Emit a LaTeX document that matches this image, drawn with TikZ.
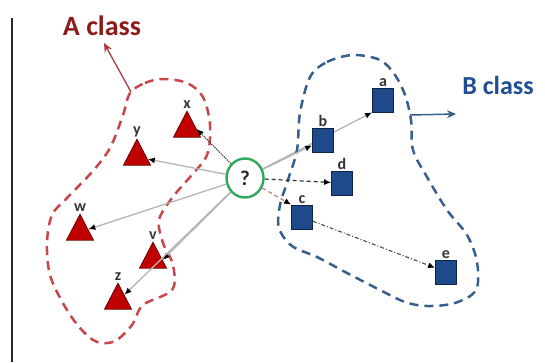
\documentclass[tikz,border=0pt]{standalone}
\usepackage{fontspec}
\setmainfont{Carlito}
\usetikzlibrary{arrows.meta,shapes.geometric,backgrounds}

\definecolor{clsred}{HTML}{8E1B1B}
\definecolor{regred}{HTML}{C9464A}
\definecolor{trifill}{HTML}{C00000}
\definecolor{triedge}{HTML}{6B0000}
\definecolor{clsblue}{HTML}{1F4E96}
\definecolor{regblue}{HTML}{365F8E}
\definecolor{sqfill}{HTML}{1F4A8A}
\definecolor{sqedge}{HTML}{0B2447}
\definecolor{qgreen}{HTML}{2EAA5C}
\definecolor{link}{HTML}{B4B4B4}

\tikzset{
  tri/.style={isosceles triangle, isosceles triangle stretches,
    shape border rotate=90, minimum width=27pt, minimum height=26pt,
    inner sep=0pt, fill=trifill, draw=triedge, line width=0.8pt},
  sq/.style={rectangle, minimum width=21pt, minimum height=24pt,
    inner sep=0pt, fill=sqfill, draw=sqedge, line width=0.8pt},
  lbl/.style={font=\fontsize{16}{16}\selectfont\bfseries, text=black!80,
    inner sep=1pt},
  query/.style={ellipse, minimum width=37pt, minimum height=39pt, inner sep=0pt,
    draw=qgreen, line width=2.4pt, fill=white,
    font=\fontsize{21}{21}\selectfont\bfseries, text=black!85},
  region/.style={dash pattern=on 9pt off 6pt, line width=2.5pt},
  tip/.style={-{Latex[length=7pt,width=6pt,color=black]}},
  near/.style={tip, draw=link, line width=1.3pt},
  classtxt/.style={font=\fontsize{26}{26}\selectfont\bfseries, inner sep=0pt}
}

\begin{document}
\begin{tikzpicture}[x=1pt,y=-1pt]
\useasboundingbox (0,0) rectangle (545,362);

% left rule
\draw[line width=2pt, black!85] (12,18) -- (12,362);

% class regions
\draw[region, draw=regred] plot[smooth cycle, tension=0.55] coordinates {
  (130,93) (145,83) (163,79) (187,83) (203,97) (210,125) (207,155) (190,177)
  (172,198) (159,220) (163,243) (173,265) (172,290) (143,305) (132,325)
  (115,341) (97,342) (80,328) (64,305) (50,275) (47,243) (52,215) (67,198)
  (92,172) (110,148) (123,115)};
\draw[region, draw=regblue] plot[smooth cycle, tension=0.55] coordinates {
  (310,77) (327,62) (353,55) (380,60) (395,75) (405,95) (411,120) (413,150)
  (427,177) (447,210) (467,235) (477,262) (476,290) (455,303) (427,306)
  (405,302) (380,290) (347,273) (317,257) (292,246) (279,228) (280,205)
  (288,180) (297,150) (300,113)};

% class titles and their pointers
\node[classtxt, text=clsred, font=\fontsize{28}{28}\selectfont\bfseries] (atitle) at (102,26) {A class};
\node[classtxt, text=clsblue] (btitle) at (498,85) {B class};
\coordinate (afrom) at (131,92);
\coordinate (ato) at (104,43);
\coordinate (bfrom) at (410,115);
\coordinate (bto) at (456,114);
\draw[line width=1.3pt, regred!85!black, -{Stealth[length=9pt,width=8pt]}] (afrom) -- (ato);
\draw[line width=1.5pt, regblue, -{Stealth[length=9pt,width=8pt]}] (bfrom) -- (bto);

% query point
\node[query] (q) at (245,178) {?};

% class A samples
\node[tri, label={[lbl]above:x}] (x) at (187,129) {};
\node[tri, label={[lbl]above:y}] (y) at (137,157) {};
\node[tri, label={[lbl]above:w}] (w) at (80,232) {};
\node[tri, label={[lbl]above:v}] (v) at (153,260) {};
\node[tri, label={[lbl]above:z}] (z) at (118,301) {};

% class B samples
\node[sq, label={[lbl]above:a}] (a) at (383,100) {};
\node[sq, label={[lbl]above:b}] (b) at (323,140) {};
\node[sq, label={[lbl]above:d}] (d) at (342,183) {};
\node[sq, label={[lbl]above:c}] (c) at (302,217) {};
\node[sq, label={[lbl]above:e}] (e) at (446,272) {};

% the link to a runs behind b
\begin{scope}[on background layer]
  \draw[near] (q) -- (a.south west);
\end{scope}

% distances from the query point
\draw[tip, line width=1.2pt, densely dotted, black!75] (q) -- (x.east);
\draw[near] (q) -- (y);
\draw[near] (q) -- (w);
\draw[near] (q) -- (v.east);
\draw[near] (q) -- (z);
\draw[near] (q) -- (b);
\draw[tip, line width=1.2pt, dash pattern=on 4pt off 3pt, black!80] (q) -- (d);
\draw[tip, line width=1.2pt, dash pattern=on 4pt off 3pt, black!35!regred!60] (q) -- (c.north west);
\draw[tip, line width=1.1pt, dash pattern=on 4pt off 2pt on 1pt off 2pt, black!70] (c) -- (e);
\end{tikzpicture}
\end{document}
